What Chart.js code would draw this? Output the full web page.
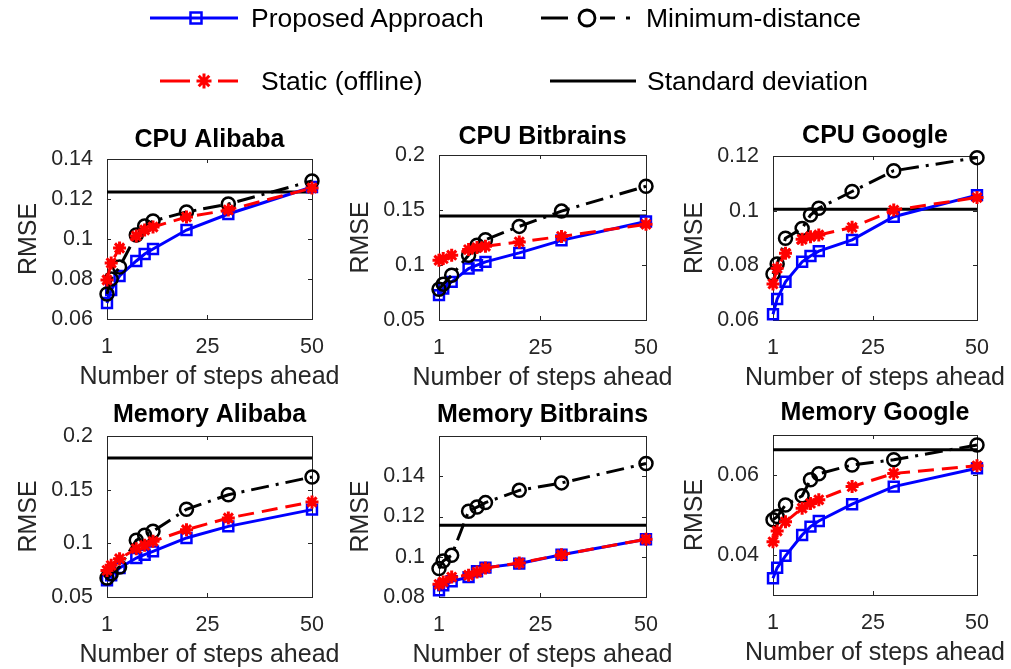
<!DOCTYPE html>
<html>
<head>
<meta charset="utf-8">
<script src="https://cdn.jsdelivr.net/npm/chart.js@4.4.1/dist/chart.umd.min.js"></script>
<style>
  html, body { margin: 0; padding: 0; background: #fff; }
  #page { position: relative; width: 1011px; height: 669px; overflow: hidden;
          font-family: "Liberation Sans", Arial, sans-serif; }
  #page canvas.plot { position: absolute; left: 0; top: 0; }
  #legendKeys { position: absolute; left: 0; top: 0; }
  .lg { position: absolute; font-size: 26.5px; line-height: 1; color: #000; white-space: nowrap;
        transform: translateY(-50%); }
</style>
</head>
<body>
<div id="page">
  <canvas id="legendKeys" width="1011" height="110"></canvas>
  <div class="lg" style="left:251px; top:18px;">Proposed Approach</div>
  <div class="lg" style="left:646px; top:18px;">Minimum-distance</div>
  <div class="lg" style="left:261px; top:81px;">Static (offline)</div>
  <div class="lg" style="left:647px; top:81px;">Standard deviation</div>
</div>
<script>
// Forecast horizons (steps ahead) shared by every panel
const steps = [1, 2, 4, 8, 10, 12, 20, 30, 50];
const xTickLabels = ['1', '25', '50'];
const xAxisTitle = 'Number of steps ahead';
const yAxisTitle = 'RMSE';

// CPU Alibaba
const cpuAlibabaProposed = [0.068, 0.0745, 0.0815, 0.089, 0.0925, 0.095, 0.1045, 0.1125, 0.126];
const cpuAlibabaMinDist  = [0.0725, 0.080, 0.086, 0.102, 0.1065, 0.109, 0.1135, 0.1175, 0.129];
const cpuAlibabaStatic   = [0.0795, 0.088, 0.0955, 0.1015, 0.1045, 0.106, 0.111, 0.1145, 0.1255];
const cpuAlibabaStd = 0.1235;
const cpuAlibabaYTickLabels = ['0.06', '0.08', '0.1', '0.12', '0.14'];

// CPU Bitbrains
const cpuBitbrainsProposed = [0.0726, 0.0787, 0.0847, 0.0968, 0.0998, 0.1028, 0.111, 0.1224, 0.1395];
const cpuBitbrainsMinDist  = [0.078, 0.0826, 0.0907, 0.1089, 0.118, 0.123, 0.1351, 0.149, 0.1716];
const cpuBitbrainsStatic   = [0.1043, 0.1058, 0.1089, 0.114, 0.1158, 0.117, 0.121, 0.126, 0.137];
const cpuBitbrainsStd = 0.1445;
const cpuBitbrainsYTickLabels = ['0.05', '0.1', '0.15', '0.2'];

// CPU Google
const cpuGoogleProposed = [0.0621, 0.0677, 0.074, 0.0813, 0.0834, 0.0852, 0.0893, 0.0978, 0.1057];
const cpuGoogleMinDist  = [0.0768, 0.0805, 0.0899, 0.0935, 0.0984, 0.1009, 0.107, 0.1146, 0.1194];
const cpuGoogleStatic   = [0.0732, 0.0789, 0.0844, 0.0895, 0.0905, 0.0911, 0.0939, 0.1002, 0.1048];
const cpuGoogleStd = 0.1005;
const cpuGoogleYTickLabels = ['0.06', '0.08', '0.1', '0.12'];

// Memory Alibaba
const memAlibabaProposed = [0.0655, 0.0702, 0.077, 0.0863, 0.0894, 0.0925, 0.105, 0.1158, 0.1314];
const memAlibabaMinDist  = [0.0677, 0.0717, 0.078, 0.1028, 0.1075, 0.1112, 0.1317, 0.1453, 0.1618];
const memAlibabaStatic   = [0.0748, 0.0795, 0.0857, 0.095, 0.0981, 0.1019, 0.1127, 0.1236, 0.1385];
const memAlibabaStd = 0.1795;
const memAlibabaYTickLabels = ['0.05', '0.1', '0.15', '0.2'];

// Memory Bitbrains
const memBitbrainsProposed = [0.0833, 0.0858, 0.0878, 0.0899, 0.0928, 0.0946, 0.0966, 0.101, 0.1087];
const memBitbrainsMinDist  = [0.0941, 0.0979, 0.1007, 0.1226, 0.1247, 0.1269, 0.133, 0.1367, 0.1463];
const memBitbrainsStatic   = [0.0863, 0.0875, 0.0899, 0.0908, 0.0924, 0.0944, 0.0969, 0.101, 0.1087];
const memBitbrainsStd = 0.1156;
const memBitbrainsYTickLabels = ['0.08', '0.1', '0.12', '0.14'];

// Memory Google
const memGoogleProposed = [0.0342, 0.0368, 0.0398, 0.045, 0.0471, 0.0485, 0.0527, 0.0571, 0.0617];
const memGoogleMinDist  = [0.0488, 0.0496, 0.0525, 0.0548, 0.0588, 0.0603, 0.0625, 0.0638, 0.0675];
const memGoogleStatic   = [0.0433, 0.046, 0.0483, 0.0517, 0.0529, 0.0538, 0.0571, 0.0604, 0.0623];
const memGoogleStd = 0.0663;
const memGoogleYTickLabels = ['0.04', '0.06'];

const FONT = '"Liberation Sans", Arial, sans-serif';
const AXIS_INK = '#262626';
const BLUE = '#0000ff', RED = '#ff0000', BLACK = '#000000';

const panels = [
  { title: 'CPU Alibaba', proposed: cpuAlibabaProposed, minDist: cpuAlibabaMinDist, stat: cpuAlibabaStatic,
    std: cpuAlibabaStd, yLabels: cpuAlibabaYTickLabels, yMin: 0.06, yMax: 0.14, titleGap: 19,
    area: { left: 107, top: 159, right: 312, bottom: 319 } },
  { title: 'CPU Bitbrains', proposed: cpuBitbrainsProposed, minDist: cpuBitbrainsMinDist, stat: cpuBitbrainsStatic,
    std: cpuBitbrainsStd, yLabels: cpuBitbrainsYTickLabels, yMin: 0.05, yMax: 0.2, titleGap: 18,
    area: { left: 439, top: 155, right: 646, bottom: 320 } },
  { title: 'CPU Google', proposed: cpuGoogleProposed, minDist: cpuGoogleMinDist, stat: cpuGoogleStatic,
    std: cpuGoogleStd, yLabels: cpuGoogleYTickLabels, yMin: 0.06, yMax: 0.12, titleGap: 20,
    area: { left: 773, top: 156, right: 977, bottom: 320 } },
  { title: 'Memory Alibaba', proposed: memAlibabaProposed, minDist: memAlibabaMinDist, stat: memAlibabaStatic,
    std: memAlibabaStd, yLabels: memAlibabaYTickLabels, yMin: 0.05, yMax: 0.2, titleGap: 21,
    area: { left: 107, top: 436, right: 312, bottom: 597 } },
  { title: 'Memory Bitbrains', proposed: memBitbrainsProposed, minDist: memBitbrainsMinDist, stat: memBitbrainsStatic,
    std: memBitbrainsStd, yLabels: memBitbrainsYTickLabels, yMin: 0.08, yMax: 0.16, titleGap: 21,
    area: { left: 439, top: 436, right: 646, bottom: 597 } },
  { title: 'Memory Google', proposed: memGoogleProposed, minDist: memGoogleMinDist, stat: memGoogleStatic,
    std: memGoogleStd, yLabels: memGoogleYTickLabels, yMin: 0.03, yMax: 0.07, titleGap: 22,
    area: { left: 773, top: 435, right: 977, bottom: 595 } }
];

// Axes box with short inward tick marks on all four sides
const boxFrame = {
  id: 'boxFrame',
  beforeDatasetsDraw(chart) {
    const { ctx, chartArea: a, scales } = chart;
    const len = 4;
    ctx.save();
    ctx.strokeStyle = AXIS_INK;
    ctx.lineWidth = 1;
    ctx.beginPath();
    scales.x.ticks.forEach(t => {
      const px = Math.round(scales.x.getPixelForValue(t.value)) + 0.5;
      ctx.moveTo(px, a.bottom); ctx.lineTo(px, a.bottom - len);
      ctx.moveTo(px, a.top); ctx.lineTo(px, a.top + len);
    });
    scales.y.ticks.forEach(t => {
      const py = Math.round(scales.y.getPixelForValue(t.value)) + 0.5;
      ctx.moveTo(a.left, py); ctx.lineTo(a.left + len, py);
      ctx.moveTo(a.right, py); ctx.lineTo(a.right - len, py);
    });
    ctx.stroke();
    ctx.strokeRect(Math.round(a.left) + 0.5, Math.round(a.top) + 0.5,
                   Math.round(a.right - a.left), Math.round(a.bottom - a.top));
    ctx.restore();
  }
};

// Panel title above the box and x-axis caption below it, centred on the plotting area
const captions = {
  id: 'captions',
  afterDraw(chart, args, opts) {
    const { ctx, chartArea: a } = chart;
    const cx = (a.left + a.right) / 2;
    ctx.save();
    ctx.textAlign = 'center';
    ctx.textBaseline = 'middle';
    ctx.fillStyle = BLACK;
    ctx.font = 'bold 25px ' + FONT;
    ctx.fillText(opts.title, cx, a.top - opts.titleGap);
    ctx.fillStyle = AXIS_INK;
    ctx.font = '25px ' + FONT;
    ctx.fillText(opts.xTitle, cx, a.bottom + opts.xTitleGap);
    ctx.restore();
  }
};

function points(values) {
  return steps.map((s, i) => ({ x: s, y: values[i] }));
}

function buildPanel(p) {
  const page = document.getElementById('page');
  const canvas = document.createElement('canvas');
  canvas.className = 'plot';
  canvas.width = 1011; canvas.height = 669;
  page.appendChild(canvas);

  const xFirst = Number(xTickLabels[0]);
  const xLast = Number(xTickLabels[xTickLabels.length - 1]);
  let pad = { left: p.area.left - 90, top: p.area.top - 20, right: 1011 - p.area.right, bottom: 669 - p.area.bottom - 40 };

  const chart = new Chart(canvas, {
    type: 'line',
    data: {
      datasets: [
        { label: 'Standard deviation', data: [{ x: xFirst, y: p.std }, { x: xLast, y: p.std }],
          borderColor: BLACK, borderWidth: 3, pointRadius: 0, order: 4 },
        { label: 'Proposed Approach', data: points(p.proposed), borderColor: BLUE, borderWidth: 3,
          pointStyle: 'rect', pointRadius: 7, pointBorderWidth: 2.5, pointBorderColor: BLUE,
          pointBackgroundColor: 'rgba(0,0,0,0)', order: 3 },
        { label: 'Minimum-distance', data: points(p.minDist), borderColor: BLACK, borderWidth: 3,
          borderDash: [18, 7, 3, 7], pointStyle: 'circle', pointRadius: 6.5, pointBorderWidth: 2.5,
          pointBorderColor: BLACK, pointBackgroundColor: 'rgba(0,0,0,0)', order: 2 },
        { label: 'Static (offline)', data: points(p.stat), borderColor: RED, borderWidth: 3,
          borderDash: [16, 8], pointStyle: 'star', pointRadius: 6.5, pointBorderWidth: 3,
          pointBorderColor: RED, pointBackgroundColor: RED, order: 1 }
      ]
    },
    options: {
      responsive: false,
      animation: false,
      devicePixelRatio: 1,
      events: [],
      layout: { padding: pad },
      elements: { line: { tension: 0, borderCapStyle: 'butt' } },
      datasets: { line: { clip: false } },
      plugins: {
        legend: { display: false }, tooltip: { enabled: false }, title: { display: false },
        captions: { title: p.title, titleGap: p.titleGap, xTitle: xAxisTitle, xTitleGap: 58 }
      },
      scales: {
        x: {
          type: 'linear', position: 'bottom', min: xFirst, max: xLast,
          afterBuildTicks: s => { s.ticks = xTickLabels.map(l => ({ value: Number(l) })); },
          afterFit: s => { s.height = 40; },
          grid: { display: false, drawTicks: false },
          border: { display: false },
          ticks: { autoSkip: false, maxRotation: 0, padding: 17, color: AXIS_INK,
                   font: { family: FONT, size: 21.5, lineHeight: 1 },
                   callback: (v, i) => xTickLabels[i] }
        },
        y: {
          type: 'linear', position: 'left', min: p.yMin, max: p.yMax,
          afterBuildTicks: s => { s.ticks = p.yLabels.map(l => ({ value: Number(l) })); },
          afterFit: s => { s.width = 90; },
          grid: { display: false, drawTicks: false },
          border: { display: false },
          ticks: { autoSkip: false, padding: 14, color: AXIS_INK,
                   font: { family: FONT, size: 21.5, lineHeight: 1 },
                   callback: (v, i) => p.yLabels[i] },
          title: { display: true, text: yAxisTitle, color: AXIS_INK,
                   font: { family: FONT, size: 25, lineHeight: 1 }, padding: { top: 0, bottom: 0 } }
        }
      }
    },
    plugins: [boxFrame, captions]
  });

  // settle the plotting area onto its intended rectangle
  for (let k = 0; k < 3; k++) {
    const a = chart.chartArea;
    pad = { left: pad.left + (p.area.left - a.left), top: pad.top + (p.area.top - a.top),
            right: pad.right + (a.right - p.area.right), bottom: pad.bottom + (a.bottom - p.area.bottom) };
    chart.options.layout.padding = pad;
    chart.update();
  }
  return chart;
}

panels.forEach(buildPanel);

// Legend key glyphs
(function drawKeys() {
  const ctx = document.getElementById('legendKeys').getContext('2d');
  ctx.lineCap = 'butt';

  // Proposed Approach: solid blue with open square
  ctx.strokeStyle = BLUE; ctx.lineWidth = 3;
  ctx.beginPath(); ctx.moveTo(150, 18); ctx.lineTo(238, 18); ctx.stroke();
  ctx.lineWidth = 2.5;
  ctx.strokeRect(190.5, 12.5, 11, 11);

  // Minimum-distance: black dash-dot with open circle
  ctx.strokeStyle = BLACK; ctx.lineWidth = 3;
  ctx.beginPath(); ctx.moveTo(541, 18); ctx.lineTo(568, 18); ctx.stroke();
  ctx.beginPath(); ctx.moveTo(600, 18); ctx.lineTo(615, 18); ctx.stroke();
  ctx.beginPath(); ctx.moveTo(626, 18); ctx.lineTo(630, 18); ctx.stroke();
  ctx.lineWidth = 2.8;
  ctx.beginPath(); ctx.arc(587, 18, 8, 0, Math.PI * 2); ctx.stroke();

  // Static (offline): red dashed with asterisk
  ctx.strokeStyle = RED; ctx.lineWidth = 3;
  ctx.beginPath(); ctx.moveTo(160, 81); ctx.lineTo(190, 81); ctx.stroke();
  ctx.beginPath(); ctx.moveTo(218, 81); ctx.lineTo(238, 81); ctx.stroke();
  const r = 7.5, cx = 204, cy = 81, d = r * Math.SQRT1_2;
  ctx.beginPath();
  ctx.moveTo(cx - r, cy); ctx.lineTo(cx + r, cy);
  ctx.moveTo(cx, cy - r); ctx.lineTo(cx, cy + r);
  ctx.moveTo(cx - d, cy - d); ctx.lineTo(cx + d, cy + d);
  ctx.moveTo(cx - d, cy + d); ctx.lineTo(cx + d, cy - d);
  ctx.stroke();

  // Standard deviation: solid black
  ctx.strokeStyle = BLACK; ctx.lineWidth = 3;
  ctx.beginPath(); ctx.moveTo(550, 81); ctx.lineTo(636, 81); ctx.stroke();
})();
</script>
</body>
</html>
